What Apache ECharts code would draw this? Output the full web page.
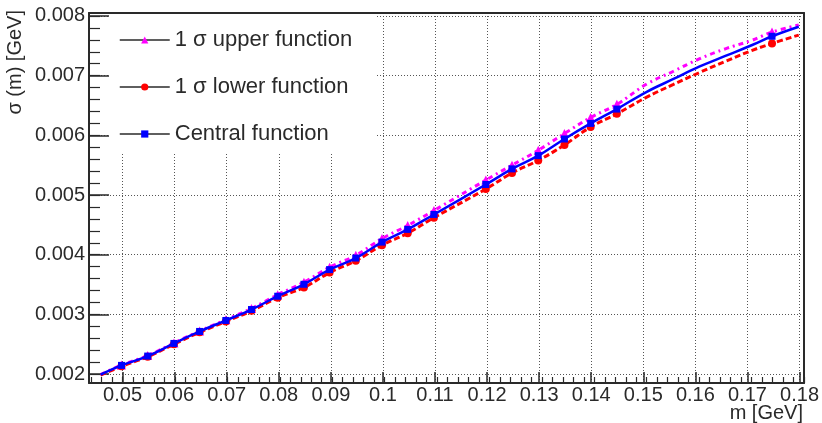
<!DOCTYPE html>
<html>
<head>
    <meta charset="utf-8">
    <title>sigma(m) functions</title>
    <style>
        html, body, #main {
            width: 822px;
            height: 423px;
            margin: 0;
            padding: 0;
            background: #fff;
        }
    </style>
</head>
<body>
    <div id="main"></div>
    <script src="https://cdn.jsdelivr.net/npm/echarts@6/dist/echarts.min.js"></script>
    <script>
        // mass points [GeV]
        var mass = [0.0458, 0.0498, 0.0548, 0.0598, 0.0647, 0.0697, 0.0746, 0.0796, 0.0846, 0.0895,
                    0.0945, 0.0995, 0.1044, 0.1094, 0.1193, 0.1243, 0.1293, 0.1343, 0.1393, 0.1443,
                    0.150, 0.155, 0.160, 0.165, 0.170, 0.1739, 0.179];
        // 1 = a marker is drawn at this point, 0 = only the curve passes here
        var withMarker = [0, 1, 1, 1, 1, 1, 1, 1, 1, 1,
                          1, 1, 1, 1, 1, 1, 1, 1, 1, 1,
                          0, 0, 0, 0, 0, 1, 0];
        var central = [0.00199, 0.002145, 0.002301, 0.002513, 0.002714, 0.002898, 0.003081, 0.003304, 0.003504, 0.003750,
                       0.003944, 0.004211, 0.004424, 0.004674, 0.005176, 0.005438, 0.005660, 0.005939, 0.006200, 0.006440,
                       0.00673, 0.00694, 0.00715, 0.00733, 0.00751, 0.00766, 0.00782];
        var upper = [0.00199, 0.00215, 0.00231, 0.00252, 0.00272, 0.00291, 0.00310, 0.00333, 0.00354, 0.00379,
                     0.00399, 0.00427, 0.00449, 0.00474, 0.00525, 0.00550, 0.00575, 0.00603, 0.00630, 0.00652,
                     0.00686, 0.00707, 0.00728, 0.00745, 0.00759, 0.00773, 0.00785];
        var lower = [0.00198, 0.00213, 0.00229, 0.00250, 0.00270, 0.00288, 0.00306, 0.00328, 0.00345, 0.00370,
                     0.00390, 0.00416, 0.00436, 0.00462, 0.00510, 0.00537, 0.00558, 0.00584, 0.00614, 0.00636,
                     0.00664, 0.00685, 0.00705, 0.00724, 0.00742, 0.00754, 0.00768];

        // frame range and tick layout
        var xRange = [0.0436, 0.18];
        var yRange = [0.00185, 0.00805];
        var xMajor = { min: 0.05, max: 0.18, step: 0.01 };
        var xMinor = { min: 0.044, max: 0.18, step: 0.002 };
        var yMajor = { min: 0.002, max: 0.008, step: 0.001 };
        var yMinorStep = 0.0002;

        var names = ['1 \u03c3 upper function', '1 \u03c3 lower function', 'Central function'];

        var textColor = '#2a2a2a';
        var font = 'Liberation Sans, Arial, Helvetica, sans-serif';

        var W = 822, H = 423;
        var frame = { left: 89, right: 18, top: 13, bottom: 40 };
        var pxPerX = (W - frame.left - frame.right) / (xRange[1] - xRange[0]);
        var pxPerY = (H - frame.top - frame.bottom) / (yRange[1] - yRange[0]);

        // ECharts counts ticks from min, so each tick set lives in its own grid whose
        // min is on the tick step, placed so that it lines up with the frame
        function subGrid(xLo, xHi, yLo, yHi) {
            return {
                left: frame.left + (xLo - xRange[0]) * pxPerX,
                right: frame.right + (xRange[1] - xHi) * pxPerX,
                top: frame.top + (yRange[1] - yHi) * pxPerY,
                bottom: frame.bottom + (yLo - yRange[0]) * pxPerY
            };
        }

        function buildData(values) {
            return mass.map(function (x, i) {
                var item = { value: [x, values[i]] };
                if (!withMarker[i]) item.symbol = 'none';
                return item;
            });
        }

        var lineAxis = { show: true, onZero: false, lineStyle: { color: textColor, width: 2 } };
        var dotted = { show: true, lineStyle: { color: '#555', width: 1, type: [1, 2] } };

        function frameAxis(gridIndex, range, pos, z) {
            return {
                type: 'value', gridIndex: gridIndex, position: pos,
                min: range[0], max: range[1], z: z,
                axisLine: lineAxis,
                axisTick: { show: false }, axisLabel: { show: false }, splitLine: { show: false }
            };
        }

        function tickAxis(gridIndex, t, pos, len, withLabels) {
            return {
                type: 'value', gridIndex: gridIndex, position: pos,
                min: t.min, max: t.max, interval: t.step,
                axisLine: { show: false, onZero: false },
                axisTick: { show: true, inside: true, length: len,
                            lineStyle: { color: textColor, width: withLabels ? 1.5 : 1.2 } },
                axisLabel: withLabels ? { show: true, color: textColor, fontSize: 20, fontFamily: font,
                                          margin: pos === 'left' ? 4 : 2 } : { show: false },
                splitLine: withLabels ? dotted : { show: false }
            };
        }

        function hiddenAxis(gridIndex, range) {
            return { type: 'value', gridIndex: gridIndex, show: false, min: range[0], max: range[1] };
        }

        var chart = echarts.init(document.getElementById('main'));

        var option = {
            animation: false,
            backgroundColor: '#fff',
            grid: [
                { left: frame.left, right: frame.right, top: frame.top, bottom: frame.bottom },
                subGrid(xMinor.min, xMinor.max, yRange[0], yRange[1]),
                subGrid(xMajor.min, xMajor.max, yRange[0], yRange[1]),
                subGrid(xRange[0], xRange[1], yMajor.min, yMajor.max)
            ],
            xAxis: [
                frameAxis(0, xRange, 'bottom', 6),
                frameAxis(0, xRange, 'top', 6),
                tickAxis(1, xMinor, 'bottom', 6, false),
                tickAxis(2, xMajor, 'bottom', 11, true),
                hiddenAxis(3, xRange)
            ],
            yAxis: [
                frameAxis(0, yRange, 'left', 6),
                frameAxis(0, yRange, 'right', 6),
                hiddenAxis(1, yRange),
                hiddenAxis(2, yRange),
                tickAxis(3, yMajor, 'left', 20, true),
                tickAxis(3, { min: yMajor.min, max: yMajor.max, step: yMinorStep }, 'left', 11, false)
            ],
            legend: {
                data: names,
                orient: 'vertical',
                left: 114,
                top: 24,
                itemWidth: 50,
                itemHeight: 9,
                itemGap: 25,
                z: 10,
                lineStyle: { color: textColor, width: 1.5, type: 'solid' },
                textStyle: { color: textColor, fontSize: 22, fontFamily: font, lineHeight: 20 }
            },
            graphic: [
                // white legend background hiding the grid lines
                { type: 'rect', z: 1, shape: { x: 110, y: 15, width: 267, height: 137 },
                  style: { fill: '#fff' } },
                { type: 'text', x: 15, y: 10, rotation: Math.PI / 2,
                  style: { text: '\u03c3 (m) [GeV]', fill: textColor, font: '20px ' + font,
                           align: 'right', verticalAlign: 'middle' } },
                { type: 'text', x: 803, y: 413,
                  style: { text: 'm [GeV]', fill: textColor, font: '20px ' + font,
                           align: 'right', verticalAlign: 'middle' } }
            ],
            series: [
                {
                    name: names[0], type: 'line', z: 2, smooth: 0.4,
                    xAxisIndex: 0, yAxisIndex: 0,
                    symbol: 'triangle', symbolSize: 9,
                    itemStyle: { color: '#ff00ff' },
                    lineStyle: { color: '#ff00ff', width: 3, type: [5, 4, 2, 4] },
                    data: buildData(upper)
                },
                {
                    name: names[1], type: 'line', z: 3, smooth: 0.4,
                    xAxisIndex: 0, yAxisIndex: 0,
                    symbol: 'circle', symbolSize: 8,
                    itemStyle: { color: '#ff0000' },
                    lineStyle: { color: '#ff0000', width: 3, type: [6, 3] },
                    data: buildData(lower)
                },
                {
                    name: names[2], type: 'line', z: 4, smooth: 0.4,
                    xAxisIndex: 0, yAxisIndex: 0,
                    symbol: 'rect', symbolSize: 7,
                    itemStyle: { color: '#0000ff' },
                    lineStyle: { color: '#0000ff', width: 2.5 },
                    data: buildData(central)
                }
            ]
        };

        chart.setOption(option);
    </script>
</body>
</html>
